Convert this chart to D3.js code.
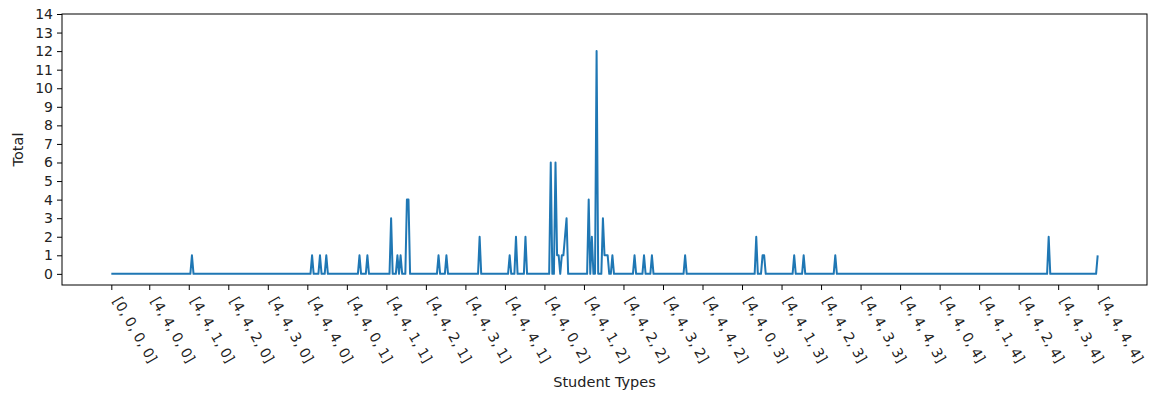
<!DOCTYPE html>
<html>
<head>
<meta charset="utf-8">
<script src="https://cdn.jsdelivr.net/npm/d3@7"></script>
<style>
  body { margin: 0; background: #fff; }
  text { font-family: "DejaVu Sans", sans-serif; }
</style>
</head>
<body>
<svg id="chart" width="1156" height="394"></svg>
<script>
// 625 student types (index 0..624), non-zero totals only
const spikeIndex = [51, 127, 132, 136, 157, 162, 177, 181, 183, 187, 188, 207, 212, 233,
    252, 256, 262, 278, 281, 282, 283, 285, 286, 287, 288,
    302, 304, 307, 311, 312, 313, 314, 317, 331, 337, 342, 363,
    408, 412, 413, 432, 438, 458, 593, 624];
const spikeValue = [1, 1, 1, 1, 1, 1, 3, 1, 1, 4, 4, 1, 1, 2,
    1, 2, 2, 6, 6, 1, 1, 1, 1, 2, 3,
    4, 2, 12, 3, 1, 1, 1, 1, 1, 1, 1, 1,
    2, 1, 1, 1, 1, 1, 2, 1];
const typeCount = 625;

const tickIndex = [0, 24, 49, 74, 99, 124, 149, 174, 199, 224, 249, 274, 299,
    324, 349, 374, 399, 424, 449, 474, 499, 524, 549, 574, 599, 624];
const tickLabels = ["[0, 0, 0, 0]", "[4, 4, 0, 0]", "[4, 4, 1, 0]", "[4, 4, 2, 0]", "[4, 4, 3, 0]",
    "[4, 4, 4, 0]", "[4, 4, 0, 1]", "[4, 4, 1, 1]", "[4, 4, 2, 1]", "[4, 4, 3, 1]",
    "[4, 4, 4, 1]", "[4, 4, 0, 2]", "[4, 4, 1, 2]", "[4, 4, 2, 2]", "[4, 4, 3, 2]",
    "[4, 4, 4, 2]", "[4, 4, 0, 3]", "[4, 4, 1, 3]", "[4, 4, 2, 3]", "[4, 4, 3, 3]",
    "[4, 4, 4, 3]", "[4, 4, 0, 4]", "[4, 4, 1, 4]", "[4, 4, 2, 4]", "[4, 4, 3, 4]",
    "[4, 4, 4, 4]"];
const yTicks = [0, 1, 2, 3, 4, 5, 6, 7, 8, 9, 10, 11, 12, 13, 14];

const totals = new Array(typeCount).fill(0);
spikeIndex.forEach((k, i) => { totals[k] = spikeValue[i]; });

const plotLeft = 62, plotRight = 1147, plotTop = 14, plotBottom = 285;
const fontSize = 14;
const svg = d3.select("#chart");

const pad = (typeCount - 1) * 0.05;
const x = d3.scaleLinear().domain([-pad, typeCount - 1 + pad]).range([plotLeft, plotRight]);
const y = d3.scaleLinear().domain([-0.6, 14]).range([plotBottom, plotTop]);

// line
svg.append("path")
    .datum(totals)
    .attr("fill", "none")
    .attr("stroke", "#1f77b4")
    .attr("stroke-width", 2)
    .attr("stroke-linejoin", "round")
    .attr("d", d3.line().x((d, i) => x(i)).y(d => y(d)));

// y axis
const yAxis = svg.append("g")
    .attr("transform", "translate(" + plotLeft + ",0)")
    .call(d3.axisLeft(y).tickValues(yTicks).tickSize(5).tickPadding(4).tickFormat(d3.format("d")));
yAxis.select(".domain").remove();
yAxis.selectAll("text").attr("font-size", fontSize).attr("fill", "#222").style("font-family", "DejaVu Sans");
yAxis.selectAll("line").attr("stroke", "#000");

// x axis
const xAxis = svg.append("g")
    .attr("transform", "translate(0," + plotBottom + ")")
    .call(d3.axisBottom(x).tickValues(tickIndex).tickSize(5).tickFormat((d, i) => tickLabels[i]));
xAxis.select(".domain").remove();
xAxis.selectAll("line").attr("stroke", "#000");
xAxis.selectAll("text")
    .attr("font-size", fontSize)
    .attr("fill", "#222")
    .style("font-family", "DejaVu Sans")
    .attr("text-anchor", "start")
    .attr("y", 0)
    .attr("dy", "0.35em")
    .attr("transform", "translate(5,13) rotate(60)");

// frame
svg.append("rect")
    .attr("x", plotLeft).attr("y", plotTop)
    .attr("width", plotRight - plotLeft).attr("height", plotBottom - plotTop)
    .attr("fill", "none").attr("stroke", "#000").attr("stroke-width", 1);

// axis titles
svg.append("text")
    .attr("x", (plotLeft + plotRight) / 2).attr("y", 387)
    .attr("text-anchor", "middle").attr("font-size", 14.5).attr("fill", "#222")
    .text("Student Types");
svg.append("text")
    .attr("transform", "translate(23," + ((plotTop + plotBottom) / 2) + ") rotate(-90)")
    .attr("text-anchor", "middle").attr("font-size", 14.5).attr("fill", "#222")
    .text("Total");
</script>
</body>
</html>
